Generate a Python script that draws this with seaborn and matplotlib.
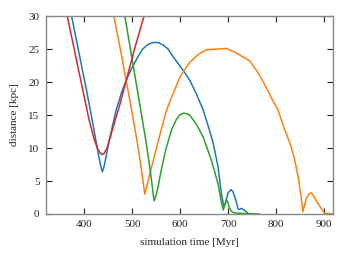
import pandas as pd
import matplotlib
matplotlib.use("Agg")
import matplotlib.pyplot as plt
import seaborn as sns

# distance vs. simulation time, four runs
red_t = [355, 365, 380, 395, 410, 420, 428, 434, 438, 442, 448, 456, 465, 473, 488, 505, 525, 535]
red_d = [33.5, 30, 24.8, 19.6, 14.4, 11.6, 9.9, 9.2, 9.0, 9.2, 10.0, 12.0, 14.3, 16.2, 20.3, 25.0, 30, 32.5]

blue_t = [365, 374, 390, 405, 417, 425, 431, 435, 438, 441, 445, 452, 460, 467, 478, 488, 500, 512,
          522, 533, 544, 554, 565, 575, 584, 596, 608, 620, 634, 648, 660, 669, 679, 686, 690, 692,
          695, 700, 706, 710, 714, 718, 721, 724, 728, 733, 738, 742]
blue_d = [33.3, 30, 24.2, 18.8, 14.2, 11.0, 8.6, 7.2, 6.4, 7.0, 8.4, 11.0, 13.6, 15.8, 18.4, 20.3, 22.2, 23.8,
          25.0, 25.7, 26.0, 26.0, 25.6, 25.0, 24.0, 22.8, 21.6, 20.3, 18.2, 15.8, 13.0, 10.7, 7.2, 3.1, 1.6, 1.1,
          1.8, 3.2, 3.7, 3.4, 2.6, 1.6, 0.75, 0.7, 0.85, 0.6, 0.35, 0.05]

orange_t = [452, 462, 475, 487, 499, 510, 519, 526.5, 535, 548, 560, 572, 584, 600, 620, 640, 655, 675,
            697, 720, 745, 760, 775, 791, 804, 818, 829, 838, 846, 851, 856, 860, 863, 868, 873, 878,
            883, 888, 894, 901, 910, 919]
orange_d = [34, 30, 25.2, 20.5, 15.8, 11.2, 7.0, 3.0, 5.5, 9.2, 12.6, 15.8, 18.0, 20.8, 23.0, 24.3, 24.9, 25.0,
            25.1, 24.3, 23.2, 21.7, 19.8, 17.5, 15.8, 12.8, 10.7, 8.5, 5.6, 3.2, 0.35, 1.5, 2.4, 3.0, 3.2, 2.8,
            2.1, 1.5, 0.86, 0.1, 0.05, 0.0]

green_t = [478, 485, 500, 518, 530, 538, 542, 544.5, 546, 550, 554, 561, 570, 582, 592, 599, 607, 614,
           620, 634, 648, 665, 679, 686, 690, 693, 697, 700, 702, 707, 715, 740, 765]
green_d = [33.2, 30, 23.5, 15.8, 10.5, 6.5, 4.2, 2.7, 2.0, 2.8, 4.1, 6.7, 9.7, 12.7, 14.3, 15.0, 15.3, 15.2,
           15.0, 13.6, 11.7, 8.2, 4.6, 1.8, 0.6, 1.4, 2.1, 1.7, 1.1, 0.35, 0.15, 0.05, 0.0]

runs = {"blue": (blue_t, blue_d), "orange": (orange_t, orange_d),
        "green": (green_t, green_d), "red": (red_t, red_d)}
colors = {"blue": "#1f77b4", "orange": "#ff7f0e", "green": "#2ca02c", "red": "#d62728"}

df = pd.concat([pd.DataFrame({"t": t, "d": d, "run": name}) for name, (t, d) in runs.items()],
               ignore_index=True)

sns.set_style("ticks")
plt.rcParams["font.family"] = ["Liberation Serif", "DejaVu Serif"]
plt.rcParams["font.size"] = 8

fig = plt.figure(figsize=(3.46, 2.60), dpi=100)
ax = fig.add_axes([0.132, 0.177, 0.831, 0.761])
sns.lineplot(data=df, x="t", y="d", hue="run", palette=colors, sort=False,
             estimator=None, linewidth=1.1, legend=False, ax=ax)

ax.set_xlim(320, 919)
ax.set_ylim(0, 30)
ax.set_xticks([400, 500, 600, 700, 800, 900])
ax.set_yticks([0, 5, 10, 15, 20, 25, 30])
ax.set_xlabel("simulation time [Myr]", fontsize=8, labelpad=6)
ax.set_ylabel("distance [kpc]", fontsize=8, labelpad=7)
ax.tick_params(direction="in", top=True, right=True, length=4, width=0.8,
               labelsize=8, color="#222222", pad=4.5)
for s in ax.spines.values():
    s.set_color("#888888")
    s.set_linewidth(1.0)

fig.savefig("out.png", dpi=100)
plt.close(fig)
